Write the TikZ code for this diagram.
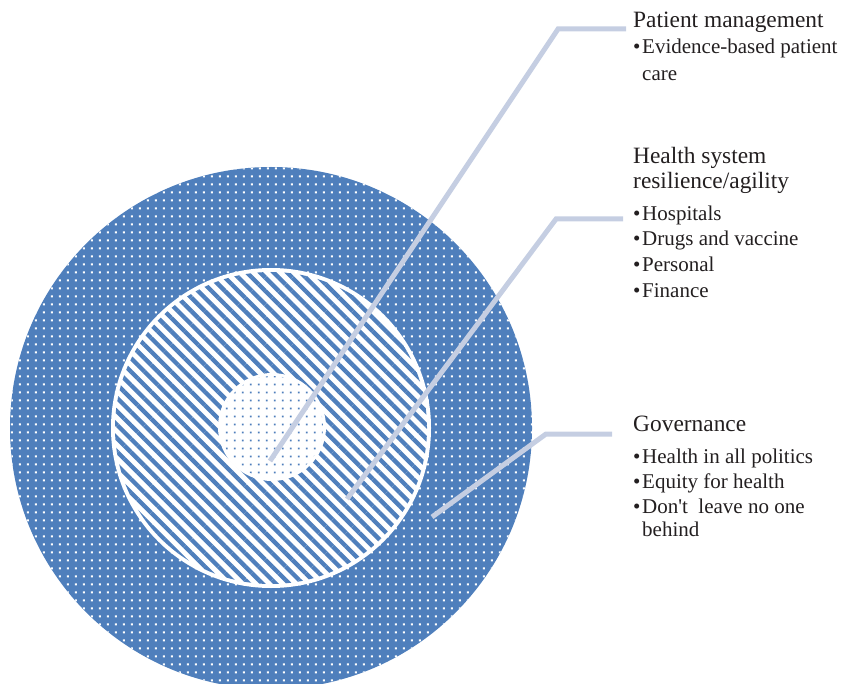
\documentclass[tikz,border=0pt]{standalone}
\usepackage{fontspec}
\setmainfont{Liberation Serif}
\usetikzlibrary{patterns,patterns.meta}
\definecolor{ringblue}{RGB}{79,127,188}
\definecolor{linkc}{RGB}{197,206,226}
\definecolor{txt}{RGB}{35,31,32}
\pgfdeclarepatternformonly{odots}{\pgfpointorigin}{\pgfpoint{8.3pt}{7.5pt}}{\pgfpoint{8.3pt}{7.5pt}}{\pgfpathrectangle{\pgfpoint{3.1pt}{2.7pt}}{\pgfpoint{2.1pt}{2.1pt}}\pgfusepath{fill}}
\pgfdeclarepatternformonly{idots}{\pgfpointorigin}{\pgfpoint{8.3pt}{8pt}}{\pgfpoint{8.3pt}{8pt}}{\pgfpathrectangle{\pgfpoint{3.1pt}{3pt}}{\pgfpoint{2pt}{2pt}}\pgfusepath{fill}}
\tikzset{
  disc/.style={circle, inner sep=0pt, outer sep=0pt, draw=none},
  link/.style={draw=linkc, line width=5pt},
  ttl/.style={anchor=base west, inner sep=0pt, text=txt, font=\fontsize{23.4}{28}\selectfont},
  itm/.style={anchor=base west, inner sep=0pt, text=txt, font=\fontsize{21}{25}\selectfont},
  bul/.style={anchor=base west, inner sep=0pt, text=txt, font=\fontsize{21}{25}\selectfont},
}
\begin{document}
\begin{tikzpicture}[x=1pt,y=-1pt]
\useasboundingbox (0,0) rectangle (842,684);
% rings
\node[disc, minimum size=522pt, preaction={fill=ringblue}, pattern=odots, pattern color=white] (outer) at (271,428) {};
\node[disc, minimum size=320pt, fill=white] (mid) at (271,428) {};
\node[disc, minimum size=312pt, pattern={Lines[angle=-45,distance=9.5pt,line width=4.3pt]}, pattern color=ringblue] (midlines) at (271,428) {};
\node[disc, minimum size=108pt, fill=white] (core) at (272,427) {};
\node[disc, minimum size=102pt, pattern=idots, pattern color=ringblue] (coredots) at (272,427) {};
% connectors
\coordinate (p1) at (270,461);
\coordinate (e1) at (558,29);
\coordinate (t1) at (626,29);
\coordinate (p2) at (347,499);
\coordinate (e2) at (556,219);
\coordinate (t2) at (623,219);
\coordinate (p3) at (432,517);
\coordinate (e3) at (546,434);
\coordinate (t3) at (612,434);
\draw[link] (p1) -- (e1) -- (t1);
\draw[link] (p2) -- (e2) -- (t2);
\draw[link] (p3) -- (e3) -- (t3);
% texts
\node[ttl] (h1) at (633,28) {Patient management};
\node[bul] (d11) at (633,54) {•};
\node[itm] (b11) at (642,54) {Evidence-based patient};
\node[itm] (b11b) at (642,81) {care};
\node[ttl] (h2a) at (633,164) {Health system};
\node[ttl] (h2b) at (633,189) {resilience/agility};
\node[bul] (d21) at (633,221) {•};
\node[itm] (b21) at (642,221) {Hospitals};
\node[bul] (d22) at (633,246) {•};
\node[itm] (b22) at (642,246) {Drugs and vaccine};
\node[bul] (d23) at (633,272) {•};
\node[itm] (b23) at (642,272) {Personal};
\node[bul] (d24) at (633,297) {•};
\node[itm] (b24) at (642,297) {Finance};
\node[ttl] (h3) at (633,431) {Governance};
\node[bul] (d31) at (633,463) {•};
\node[itm] (b31) at (642,463) {Health in all politics};
\node[bul] (d32) at (633,488) {•};
\node[itm] (b32) at (642,488) {Equity for health};
\node[bul] (d33) at (633,513) {•};
\node[itm] (b33) at (642,513) {Don\textquotesingle t~ leave no one};
\node[itm] (b33b) at (642,536) {behind};
\end{tikzpicture}
\end{document}
